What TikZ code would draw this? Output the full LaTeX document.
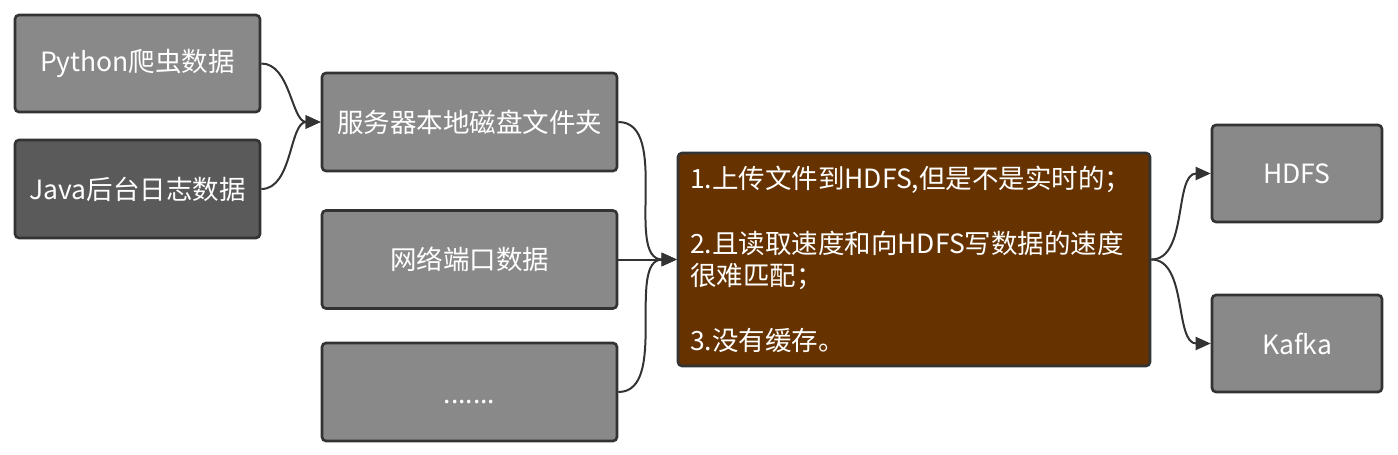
\documentclass[tikz,border=0pt]{standalone}
\usepackage{fontspec}
\setmainfont{Noto Sans CJK SC}
\usetikzlibrary{arrows.meta}
\definecolor{boxgray}{HTML}{898989}
\definecolor{boxdark}{HTML}{5A5A5A}
\definecolor{boxbrown}{HTML}{663300}
\definecolor{edgecol}{HTML}{333333}
\begin{document}
\begin{tikzpicture}[x=1pt,y=-1pt,
  box/.style={draw=edgecol, line width=2.6pt, rounded corners=4pt, fill=boxgray,
    text=white, font=\fontsize{26.5}{32.5}\selectfont, inner sep=0pt, align=center},
  conn/.style={draw=edgecol, line width=2pt, -{Triangle[length=15pt,width=13pt]}},
  curve/.style={out=0,in=180,looseness=0.9}]
\useasboundingbox[fill=white] (0,0) rectangle (1398,455);
\node[box, minimum width=245pt, minimum height=97pt] (py) at (137.5,63.5) {Python爬虫数据};
\node[box, fill=boxdark, minimum width=245pt, minimum height=98pt] (java) at (137.5,189) {Java后台日志数据};
\node[box, minimum width=295pt, minimum height=98pt] (srv) at (469.5,122) {服务器本地磁盘文件夹};
\node[box, minimum width=295pt, minimum height=98pt] (net) at (469.5,259.5) {网络端口数据};
\node[box, minimum width=295pt, minimum height=98pt] (dots) at (469.5,392) {\raisebox{-11pt}[0pt][0pt]{.......}};
\node[box, fill=boxbrown, minimum width=472pt, minimum height=213pt, text width=448pt, align=left] (pb) at (914,259.5)
  {1.上传文件到HDFS,但是不是实时的；\\[32.5pt]2.且读取速度和向HDFS写数据的速度\\很难匹配；\\[32.5pt]3.没有缓存。};
\node[box, minimum width=170pt, minimum height=97pt] (hdfs) at (1297,173.5) {HDFS};
\node[box, minimum width=170pt, minimum height=97pt] (kafka) at (1297,343.5) {Kafka};
\draw[conn] (py.east) to[curve] (srv.west);
\draw[conn] (java.east) to[curve] (srv.west);
\draw[conn] (srv.east) to[curve] (pb.west);
\draw[conn] (net.east) -- (pb.west);
\draw[conn] (dots.east) to[curve] (pb.west);
\draw[conn] (pb.east) to[curve] (hdfs.west);
\draw[conn] (pb.east) to[curve] (kafka.west);
\end{tikzpicture}
\end{document}
